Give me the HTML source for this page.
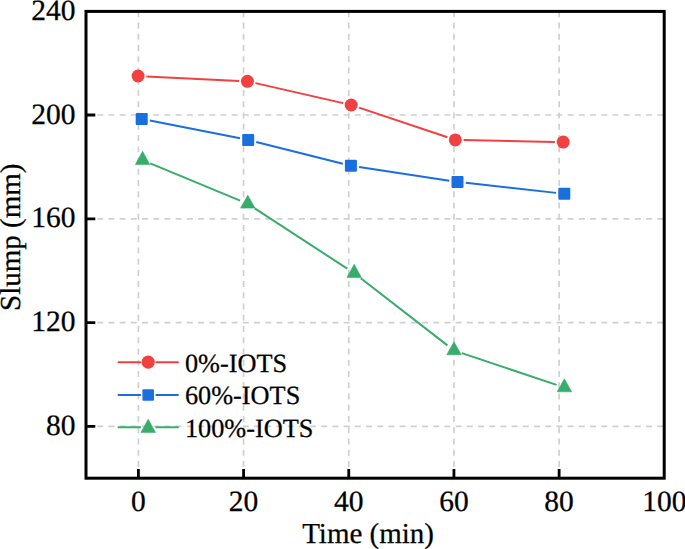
<!DOCTYPE html>
<html><head><meta charset="utf-8"><title>Slump vs Time</title>
<style>html,body{margin:0;padding:0;background:#fff;}body{width:685px;height:549px;overflow:hidden;font-family:"Liberation Serif",serif;}svg{display:block;}text{text-rendering:geometricPrecision;stroke:#000;stroke-width:0.25px;}</style>
</head><body>
<svg width="685" height="549" viewBox="0 0 685 549">
<rect width="685" height="549" fill="#fff"/>
<g stroke="#D0D0D0" stroke-width="1.7" fill="none"><g stroke-dasharray="6 5.2"><line x1="86.0" y1="115.02" x2="664.2" y2="115.02"/><line x1="86.0" y1="218.78" x2="664.2" y2="218.78"/><line x1="86.0" y1="322.54" x2="664.2" y2="322.54"/><line x1="86.0" y1="426.30" x2="664.2" y2="426.30"/></g><g stroke-dasharray="6 5.24"><line x1="138.40" y1="478.2" x2="138.40" y2="11.4"/><line x1="243.58" y1="478.2" x2="243.58" y2="11.4"/><line x1="348.76" y1="478.2" x2="348.76" y2="11.4"/><line x1="453.94" y1="478.2" x2="453.94" y2="11.4"/><line x1="559.12" y1="478.2" x2="559.12" y2="11.4"/></g></g>
<g fill="none" stroke-width="2.0" stroke-linecap="butt"><path d="M146.39 76.40L239.11 80.90M255.49 83.15L343.11 103.15M359.07 107.64L447.43 137.26M463.60 140.07L554.90 141.93" stroke="#F14040"/><path d="M149.84 120.60L240.06 138.30M256.25 141.92L342.85 163.68M359.11 166.95L449.29 180.65M465.75 182.82L556.05 192.88" stroke="#1A6FDF"/><path d="M150.27 163.36L240.13 200.69M254.75 208.41L347.25 268.65M360.76 278.26L447.44 345.36M461.87 353.08L556.53 384.87" stroke="#37AD6B"/></g>
<circle cx="138.1" cy="76.0" r="6.5" fill="#F14040"/><circle cx="247.4" cy="81.3" r="6.5" fill="#F14040"/><circle cx="351.2" cy="105.0" r="6.5" fill="#F14040"/><circle cx="455.3" cy="139.9" r="6.5" fill="#F14040"/><circle cx="563.2" cy="142.1" r="6.5" fill="#F14040"/><rect x="135.70" y="113.00" width="12" height="12" rx="1" fill="#1A6FDF"/><rect x="242.20" y="133.90" width="12" height="12" rx="1" fill="#1A6FDF"/><rect x="344.90" y="159.70" width="12" height="12" rx="1" fill="#1A6FDF"/><rect x="451.50" y="175.90" width="12" height="12" rx="1" fill="#1A6FDF"/><rect x="558.30" y="187.80" width="12" height="12" rx="1" fill="#1A6FDF"/><path d="M142.60 151.20L149.85 164.60L135.35 164.60Z" fill="#37AD6B" stroke="#37AD6B" stroke-width="0.6" stroke-linejoin="round"/><path d="M247.80 195.30L255.05 208.10L240.55 208.10Z" fill="#37AD6B" stroke="#37AD6B" stroke-width="0.6" stroke-linejoin="round"/><path d="M354.20 264.20L361.45 277.60L346.95 277.60Z" fill="#37AD6B" stroke="#37AD6B" stroke-width="0.6" stroke-linejoin="round"/><path d="M454.00 341.80L461.25 354.70L446.75 354.70Z" fill="#37AD6B" stroke="#37AD6B" stroke-width="0.6" stroke-linejoin="round"/><path d="M564.40 378.80L571.65 391.80L557.15 391.80Z" fill="#37AD6B" stroke="#37AD6B" stroke-width="0.6" stroke-linejoin="round"/>
<path d="M138.40 478.2V469.00M243.58 478.2V469.00M348.76 478.2V469.00M453.94 478.2V469.00M559.12 478.2V469.00M86.0 115.02H95.30M86.0 218.78H95.30M86.0 322.54H95.30M86.0 426.30H95.30" stroke="#000" stroke-width="2.8" fill="none"/>
<rect x="86.0" y="11.4" width="578.20" height="466.80" stroke="#000" stroke-width="3" fill="none"/>
<g font-family="Liberation Serif" font-size="29.5" fill="#000"><text x="75.6" y="19.96" text-anchor="end">240</text><text x="75.6" y="123.72" text-anchor="end">200</text><text x="75.6" y="227.48" text-anchor="end">160</text><text x="75.6" y="331.24" text-anchor="end">120</text><text x="75.6" y="435.00" text-anchor="end">80</text><text x="138.40" y="510.6" text-anchor="middle">0</text><text x="243.58" y="510.6" text-anchor="middle">20</text><text x="348.76" y="510.6" text-anchor="middle">40</text><text x="453.94" y="510.6" text-anchor="middle">60</text><text x="559.12" y="510.6" text-anchor="middle">80</text><text x="664.30" y="510.6" text-anchor="middle">100</text></g>
<text x="368.1" y="542.9" text-anchor="middle" font-family="Liberation Serif" font-size="29" fill="#000">Time (min)</text>
<text transform="translate(20.3 237.3) rotate(-90)" x="0" y="0" text-anchor="middle" font-family="Liberation Serif" font-size="29" fill="#000">Slump (mm)</text>
<path d="M118.6 362.2H140.2M156.4 362.2H177.9" stroke="#F14040" stroke-width="2.1" stroke-linecap="round" fill="none"/><circle cx="148.2" cy="362.2" r="6.6" fill="#F14040"/><text x="184.9" y="371.50" font-family="Liberation Serif" font-size="26.3" fill="#000">0%-IOTS</text><path d="M118.6 395.0H140.2M156.4 395.0H177.9" stroke="#1A6FDF" stroke-width="2.1" stroke-linecap="round" fill="none"/><rect x="142.4" y="389.20" width="11.6" height="11.6" rx="1" fill="#1A6FDF"/><text x="184.9" y="404.30" font-family="Liberation Serif" font-size="26.3" fill="#000">60%-IOTS</text><path d="M118.6 427.3H140.2M156.4 427.3H177.9" stroke="#37AD6B" stroke-width="2.1" stroke-linecap="round" fill="none"/><path d="M148.2 419.2L155.5 432.4L140.9 432.4Z" fill="#37AD6B" stroke="#37AD6B" stroke-width="0.6" stroke-linejoin="round"/><text x="184.9" y="436.60" font-family="Liberation Serif" font-size="26.3" fill="#000">100%-IOTS</text>
</svg>
</body></html>
